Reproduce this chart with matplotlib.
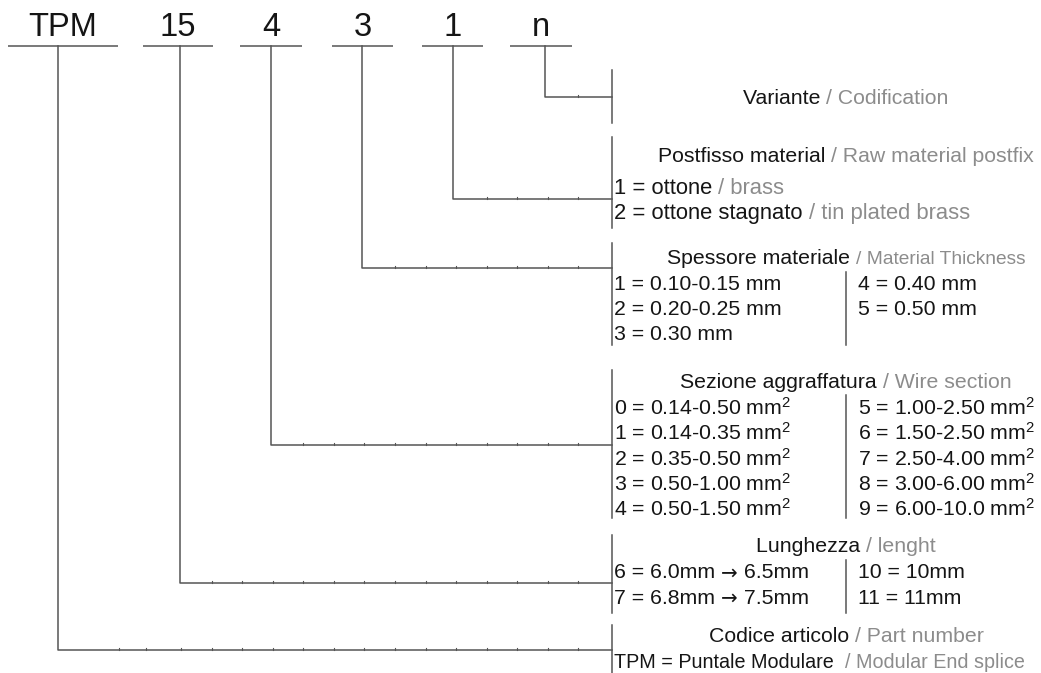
import matplotlib.pyplot as plt
from matplotlib import rcParams

rcParams['font.family'] = ['Liberation Sans', 'DejaVu Sans']
rcParams['mathtext.fontset'] = 'custom'
rcParams['mathtext.rm'] = 'Liberation Sans'
rcParams['mathtext.it'] = 'Liberation Sans'

# code parts shown on top
codes = ['TPM', '15', '4', '3', '1', 'n']

# description blocks (black part, grey part)
headings = [
    ('Variante', 'Codification'),
    ('Postfisso material', 'Raw material postfix'),
    ('Spessore materiale', 'Material Thickness'),
    ('Sezione aggraffatura', 'Wire section'),
    ('Lunghezza', 'lenght'),
    ('Codice articolo', 'Part number'),
]

material = [('1 = ottone', 'brass'), ('2 = ottone stagnato', 'tin plated brass')]
thick_left = ['1 = 0.10-0.15 mm', '2 = 0.20-0.25 mm', '3 = 0.30 mm']
thick_right = ['4 = 0.40 mm', '5 = 0.50 mm']
wire_left = ['0 = 0.14-0.50 mm$^2$', '1 = 0.14-0.35 mm$^2$', '2 = 0.35-0.50 mm$^2$',
             '3 = 0.50-1.00 mm$^2$', '4 = 0.50-1.50 mm$^2$']
wire_right = ['5 = 1.00-2.50 mm$^2$', '6 = 1.50-2.50 mm$^2$', '7 = 2.50-4.00 mm$^2$',
              '8 = 3.00-6.00 mm$^2$', '9 = 6.00-10.0 mm$^2$']
length_left = [('6 = 6.0mm', '6.5mm'), ('7 = 6.8mm', '7.5mm')]
length_right = ['10 = 10mm', '11 = 11mm']
part = ('TPM = Puntale Modulare ', 'Modular End splice')

# layout (pixels)
code_x = [58, 180, 271, 362, 453, 545]
code_ul = [(8, 118), (143, 213), (240, 302), (332, 393), (422, 483), (510, 572)]
code_y_end = [650, 583, 445, 268, 199, 97]
bar_x = 612
bars = [(70, 123), (137, 228), (243, 345), (370, 518), (535, 613), (625, 673)]
head_y = [98, 156, 259, 383, 547, 637]
head_cx = 846
tick_x = [119, 146, 181, 212, 242, 273, 303, 334, 364, 395, 426, 456, 487, 517, 548, 578]

BLACK = '#151515'
GREY = '#8c8c8c'
LINE = '#555555'
LW = 1.1
FS = 15.3

fig = plt.figure(figsize=(10.41, 6.73), dpi=100)
ax = fig.add_axes([0, 0, 1, 1])
ax.set_xlim(0, 1041)
ax.set_ylim(673, 0)
ax.axis('off')
renderer = fig.canvas.get_renderer()


def width_px(s, size, family=None):
    t = ax.text(0, 0, s, fontsize=size, family=family)
    w = t.get_window_extent(renderer).width
    t.remove()
    return w


def pieces(x, y, parts, center=False):
    # parts: list of (text, color, size, family)
    widths = [width_px(s, sz, fam) for s, c, sz, fam in parts]
    if center:
        x = x - sum(widths) / 2
    for (s, c, sz, fam), w in zip(parts, widths):
        ax.text(x, y, s, fontsize=sz, color=c, family=fam, va='center', ha='left')
        x += w


def two_tone(x, y, black, grey, size=FS, gsize=None, center=False):
    gsize = gsize or size
    pieces(x, y, [(black + ' ', BLACK, size, None), ('/ ' + grey, GREY, gsize, None)], center)


# top code labels and leader lines
for c, x, ul, ye in zip(codes, code_x, code_ul, code_y_end):
    ax.text((ul[0] + ul[1]) / 2, 28, c, fontsize=23.5, color=BLACK, ha='center', va='center')
    ax.plot(ul, [46, 46], color=LINE, lw=LW, solid_capstyle='butt')
    ax.plot([x, x, bar_x], [46, ye, ye], color=LINE, lw=LW)
    for tx in tick_x:
        if tx > x + 10:
            ax.plot([tx, tx], [ye, ye - 2.5], color=LINE, lw=0.8)

for y0, y1 in bars:
    ax.plot([bar_x, bar_x], [y0, y1], color=LINE, lw=LW)

for (b, g), y in zip(headings, head_y):
    gs = 13.8 if b.startswith('Spessore') else FS
    two_tone(head_cx, y, b, g, size=FS, gsize=gs, center=True)

left_x = 614
right_x = 858
row = 25.2

# material
for i, (b, g) in enumerate(material):
    two_tone(left_x, 188 + i * row, b, g, size=15.8)

# thickness
for i, s in enumerate(thick_left):
    ax.text(left_x, 284 + i * row, s, fontsize=FS, color=BLACK, va='center')
for i, s in enumerate(thick_right):
    ax.text(right_x, 284 + i * row, s, fontsize=FS, color=BLACK, va='center')
ax.plot([846, 846], [272, 345], color=LINE, lw=LW)

# wire section
for i, s in enumerate(wire_left):
    ax.text(left_x, 408 + i * row, s, fontsize=FS, color=BLACK, va='center')
for i, s in enumerate(wire_right):
    ax.text(right_x, 408 + i * row, s, fontsize=FS, color=BLACK, va='center')
ax.plot([846, 846], [395, 518], color=LINE, lw=LW)

# length
for i, (a, b) in enumerate(length_left):
    pieces(left_x, 573 + i * row, [(a + ' ', BLACK, FS, None),
                                   ('\u2192', BLACK, FS - 1, 'DejaVu Sans'),
                                   (' ' + b, BLACK, FS, None)])
for i, s in enumerate(length_right):
    ax.text(right_x, 573 + i * row, s, fontsize=FS, color=BLACK, va='center')
ax.plot([846, 846], [560, 613], color=LINE, lw=LW)

# part number
two_tone(left_x, 662, part[0], part[1], size=14.2)

fig.savefig('out.png', dpi=100)
